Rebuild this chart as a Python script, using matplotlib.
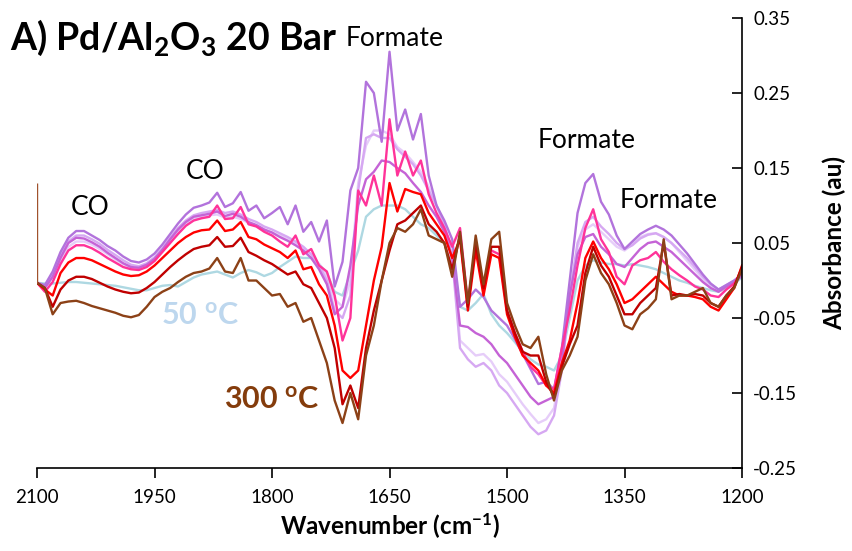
import numpy as np
import matplotlib
matplotlib.use("Agg")
import matplotlib.pyplot as plt
from matplotlib.ticker import FixedLocator, FuncFormatter

plt.rcParams['font.family'] = ['Lato', 'DejaVu Sans']
plt.rcParams['mathtext.fontset'] = 'custom'
plt.rcParams['mathtext.rm'] = 'Lato:bold'
plt.rcParams['mathtext.it'] = 'Lato:bold'
plt.rcParams['mathtext.bf'] = 'Lato:bold'
plt.rcParams['mathtext.default'] = 'rm'

# Wavenumber grid (cm-1), 2100 -> 1200 in 10 cm-1 steps
wavenumber = np.arange(2100, 1199, -10)

abs_50C = [
    -0.003, -0.004, -0.004, -0.003, -0.002, -0.002, -0.003, -0.004, -0.005, -0.006,
    -0.007, -0.009, -0.011, -0.013, -0.013, -0.010, -0.007, -0.006, -0.008, -0.002,
    0.004, 0.008, 0.010, 0.012, 0.008, 0.004, 0.010, 0.014, 0.011, 0.006,
    0.010, 0.018, 0.025, 0.032, 0.030, 0.030, 0.022, 0.010, -0.015, -0.020,
    0.010, 0.040, 0.085, 0.095, 0.100, 0.100, 0.100, 0.095, 0.085, 0.075,
    0.070, 0.060, 0.050, 0.020, -0.035, -0.040, -0.030, -0.018, -0.045, -0.060,
    -0.070, -0.082, -0.095, -0.105, -0.112, -0.115, -0.120, -0.100, -0.050, 0.000,
    0.020, 0.027, 0.024, 0.022, 0.022, 0.020, 0.022, 0.020, 0.018, 0.015,
    0.010, 0.005, 0.000, -0.003, -0.007, -0.010, -0.013, -0.015, -0.010, -0.004,
    0.004,
]

abs_lavender_light = [
    -0.003, -0.008, 0.004, 0.028, 0.045, 0.052, 0.052, 0.048, 0.042, 0.035,
    0.028, 0.022, 0.017, 0.016, 0.020, 0.028, 0.040, 0.053, 0.065, 0.075,
    0.082, 0.085, 0.087, 0.088, 0.084, 0.085, 0.082, 0.077, 0.073, 0.068,
    0.064, 0.060, 0.055, 0.050, 0.044, 0.035, 0.022, 0.005, -0.025, -0.035,
    0.000, 0.130, 0.180, 0.200, 0.200, 0.195, 0.178, 0.170, 0.158, 0.145,
    0.125, 0.100, 0.075, 0.035, -0.080, -0.090, -0.100, -0.098, -0.108, -0.125,
    -0.135, -0.150, -0.165, -0.178, -0.190, -0.185, -0.170, -0.115, -0.020, 0.045,
    0.068, 0.075, 0.065, 0.055, 0.045, 0.040, 0.048, 0.058, 0.062, 0.063,
    0.058, 0.050, 0.038, 0.026, 0.014, 0.002, -0.008, -0.013, -0.007, -0.001,
    0.007,
]

abs_lavender = [
    -0.003, -0.008, 0.008, 0.033, 0.052, 0.060, 0.060, 0.055, 0.049, 0.041,
    0.034, 0.027, 0.021, 0.019, 0.023, 0.031, 0.043, 0.057, 0.070, 0.080,
    0.087, 0.090, 0.092, 0.094, 0.090, 0.092, 0.088, 0.082, 0.078, 0.072,
    0.068, 0.063, 0.058, 0.052, 0.045, 0.035, 0.020, 0.000, -0.040, -0.050,
    -0.020, 0.120, 0.190, 0.195, 0.190, 0.190, 0.175, 0.165, 0.155, 0.140,
    0.120, 0.100, 0.075, 0.030, -0.090, -0.105, -0.115, -0.110, -0.120, -0.140,
    -0.150, -0.165, -0.180, -0.195, -0.205, -0.200, -0.180, -0.120, -0.020, 0.050,
    0.078, 0.085, 0.072, 0.062, 0.050, 0.042, 0.047, 0.056, 0.061, 0.063,
    0.058, 0.050, 0.040, 0.030, 0.018, 0.005, -0.005, -0.012, -0.006, 0.000,
    0.008,
]

abs_orchid = [
    -0.003, -0.010, 0.005, 0.030, 0.050, 0.057, 0.056, 0.051, 0.045, 0.037,
    0.030, 0.023, 0.018, 0.017, 0.021, 0.029, 0.041, 0.055, 0.068, 0.078,
    0.085, 0.087, 0.089, 0.092, 0.086, 0.089, 0.085, 0.078, 0.074, 0.068,
    0.064, 0.058, 0.053, 0.047, 0.040, 0.030, 0.015, -0.005, -0.045, -0.035,
    0.020, 0.100, 0.135, 0.145, 0.160, 0.158, 0.150, 0.143, 0.130, 0.118,
    0.100, 0.085, 0.065, 0.030, -0.060, -0.062, -0.070, -0.075, -0.085, -0.100,
    -0.110, -0.125, -0.140, -0.155, -0.165, -0.160, -0.155, -0.110, -0.020, 0.035,
    0.058, 0.062, 0.045, 0.035, 0.022, 0.018, 0.030, 0.042, 0.050, 0.052,
    0.045, 0.038, 0.028, 0.018, 0.008, -0.002, -0.010, -0.015, -0.008, -0.002,
    0.006,
]

abs_purple = [
    -0.003, -0.006, 0.012, 0.038, 0.057, 0.066, 0.066, 0.060, 0.054, 0.046,
    0.040, 0.032, 0.026, 0.024, 0.028, 0.036, 0.048, 0.062, 0.076, 0.088,
    0.097, 0.100, 0.104, 0.117, 0.098, 0.103, 0.118, 0.093, 0.100, 0.083,
    0.090, 0.098, 0.075, 0.100, 0.065, 0.078, 0.052, 0.080, -0.008, 0.025,
    0.120, 0.150, 0.265, 0.250, 0.185, 0.305, 0.200, 0.228, 0.188, 0.222,
    0.140, 0.100, 0.080, 0.055, -0.035, -0.025, -0.012, -0.022, -0.040, -0.050,
    -0.060, -0.078, -0.098, -0.118, -0.138, -0.135, -0.145, -0.090, 0.000, 0.090,
    0.130, 0.142, 0.105, 0.088, 0.060, 0.042, 0.052, 0.062, 0.068, 0.073,
    0.068, 0.060, 0.048, 0.036, 0.022, 0.008, -0.004, -0.012, -0.006, 0.000,
    0.008,
]

abs_pink = [
    -0.003, -0.015, -0.002, 0.022, 0.040, 0.047, 0.047, 0.043, 0.037, 0.030,
    0.024, 0.018, 0.015, 0.014, 0.018, 0.026, 0.038, 0.050, 0.062, 0.073,
    0.080, 0.083, 0.085, 0.100, 0.082, 0.083, 0.098, 0.075, 0.072, 0.065,
    0.060, 0.052, 0.045, 0.060, 0.035, 0.042, 0.020, 0.012, -0.020, -0.080,
    -0.050, 0.120, 0.100, 0.140, 0.100, 0.215, 0.140, 0.172, 0.140, 0.160,
    0.115, 0.090, 0.070, 0.045, 0.070, -0.030, 0.045, -0.010, 0.040, 0.035,
    -0.040, -0.070, -0.095, -0.115, -0.125, -0.140, -0.145, -0.090, -0.040, 0.020,
    0.070, 0.095, 0.055, 0.038, 0.005, -0.005, 0.020, 0.027, 0.030, 0.038,
    0.025, 0.015, 0.007, 0.000, -0.008, -0.012, -0.020, -0.022, -0.012, -0.004,
    0.012,
]

abs_red = [
    -0.003, -0.012, -0.020, 0.010, 0.024, 0.030, 0.030, 0.027, 0.022, 0.017,
    0.012, 0.008, 0.006, 0.007, 0.012, 0.020, 0.030, 0.040, 0.050, 0.058,
    0.064, 0.067, 0.068, 0.080, 0.066, 0.068, 0.078, 0.058, 0.055, 0.048,
    0.043, 0.038, 0.030, 0.040, 0.015, 0.018, -0.005, -0.020, -0.060, -0.120,
    -0.130, -0.120, -0.060, 0.000, 0.045, 0.130, 0.092, 0.122, 0.118, 0.115,
    0.090, 0.075, 0.060, 0.030, 0.055, -0.040, 0.040, -0.020, 0.035, 0.030,
    -0.045, -0.075, -0.100, -0.110, -0.120, -0.140, -0.150, -0.110, -0.080, -0.030,
    0.030, 0.052, 0.030, 0.015, -0.005, -0.030, -0.025, -0.015, -0.005, 0.005,
    -0.005, -0.015, -0.020, -0.020, -0.022, -0.025, -0.035, -0.040, -0.025, -0.010,
    0.020,
]

abs_dark_red = [
    -0.003, -0.010, -0.035, -0.012, 0.000, 0.005, 0.005, 0.002, -0.003, -0.008,
    -0.012, -0.015, -0.017, -0.016, -0.010, -0.002, 0.008, 0.018, 0.027, 0.035,
    0.042, 0.045, 0.047, 0.058, 0.045, 0.046, 0.057, 0.038, 0.033, 0.027,
    0.022, 0.015, 0.008, 0.012, -0.005, -0.010, -0.030, -0.050, -0.090, -0.165,
    -0.140, -0.170, -0.090, -0.040, 0.000, 0.040, 0.075, 0.080, 0.090, 0.100,
    0.075, 0.065, 0.050, 0.015, 0.060, -0.035, 0.050, -0.010, 0.045, 0.045,
    -0.040, -0.070, -0.095, -0.100, -0.100, -0.135, -0.155, -0.115, -0.085, -0.060,
    0.010, 0.045, 0.020, 0.005, -0.020, -0.045, -0.045, -0.030, -0.020, -0.010,
    0.050, -0.020, -0.018, -0.020, -0.018, -0.020, -0.030, -0.035, -0.020, -0.008,
    0.018,
]

abs_300C = [
    -0.003, -0.010, -0.045, -0.030, -0.028, -0.027, -0.030, -0.034, -0.037, -0.040,
    -0.043, -0.047, -0.049, -0.046, -0.035, -0.022, -0.015, -0.010, -0.002, 0.005,
    0.010, 0.012, 0.016, 0.030, 0.012, 0.010, 0.030, 0.000, 0.000, -0.010,
    -0.020, -0.018, -0.035, -0.030, -0.055, -0.050, -0.080, -0.110, -0.160, -0.190,
    -0.150, -0.185, -0.100, -0.060, 0.000, 0.050, 0.070, 0.065, 0.075, 0.095,
    0.060, 0.055, 0.050, 0.005, 0.065, -0.030, 0.060, -0.005, 0.055, 0.065,
    -0.030, -0.060, -0.085, -0.090, -0.075, -0.125, -0.160, -0.120, -0.100, -0.075,
    0.000, 0.035, 0.010, -0.005, -0.030, -0.060, -0.065, -0.045, -0.037, -0.025,
    0.055, -0.025, -0.020, -0.020, -0.015, -0.010, -0.030, -0.035, -0.020, -0.010,
    0.015,
]
# first recorded point of the 300 C spectrum at 2100 cm-1
edge_300C = 0.130

series = [
    (abs_50C, '#aed8e2'),
    (abs_lavender_light, '#e6cdf9'),
    (abs_lavender, '#d6a8f2'),
    (abs_orchid, '#c563d6'),
    (abs_purple, '#b273dc'),
    (abs_pink, '#ff3399'),
    (abs_red, '#ff0000'),
    (abs_dark_red, '#c00000'),
    (abs_300C, '#8c4117'),
]

x_ticks = [2100, 1950, 1800, 1650, 1500, 1350, 1200]
y_ticks = [-0.25, -0.15, -0.05, 0.05, 0.15, 0.25, 0.35]

fig = plt.figure(figsize=(8.53, 5.51), dpi=100)
ax = fig.add_axes([0.0434, 0.1506, 0.8265, 0.8167])

for values, color in series:
    ax.plot(wavenumber, values, color=color, lw=1.7, solid_joinstyle='round')
ax.vlines(wavenumber[0], abs_300C[0], edge_300C, color='#a0522d', lw=1.0)

ax.set_xlim(2100, 1200)
ax.set_ylim(-0.25, 0.35)

ax.spines['top'].set_visible(False)
ax.spines['left'].set_visible(False)
for s in ('bottom', 'right'):
    ax.spines[s].set_linewidth(1.2)
    ax.spines[s].set_color('black')

ax.xaxis.set_major_locator(FixedLocator(x_ticks))
ax.yaxis.set_major_locator(FixedLocator(y_ticks))
ax.yaxis.tick_right()
ax.yaxis.set_label_position('right')
ax.yaxis.set_major_formatter(FuncFormatter(lambda v, p: f"{v:.2f}"))
ax.tick_params(axis='x', direction='out', length=7, width=1.2, labelsize=13.5, pad=8)
ax.tick_params(axis='y', direction='in', length=7, width=1.2, labelsize=13.5, pad=8)

ax.set_xlabel(r'Wavenumber (cm$^{-1}$)', fontsize=17.5, fontweight='bold', labelpad=4)
ax.set_ylabel('Absorbance (au)', fontsize=17.5, fontweight='bold', labelpad=18)

ax.text(2032, 0.098, 'CO', fontsize=19, ha='center', va='center')
ax.text(1885, 0.145, 'CO', fontsize=19, ha='center', va='center')
ax.text(1643, 0.323, 'Formate', fontsize=19, ha='center', va='center')
ax.text(1398, 0.187, 'Formate', fontsize=19, ha='center', va='center')
ax.text(1294, 0.107, 'Formate', fontsize=19, ha='center', va='center')
ax.text(1892, -0.047, r'50 $^{o}$C', fontsize=22, fontweight='bold',
        color='#bdd7ee', ha='center', va='center')
ax.text(1800, -0.159, r'300 $^{o}$C', fontsize=22, fontweight='bold',
        color='#843c0c', ha='center', va='center')

fig.text(10 / 853, 1 - 38 / 551, r'A) Pd/Al$_{2}$O$_{3}$ 20 Bar', fontsize=27,
         fontweight='bold', ha='left', va='center')

fig.savefig('out.png', dpi=100)
